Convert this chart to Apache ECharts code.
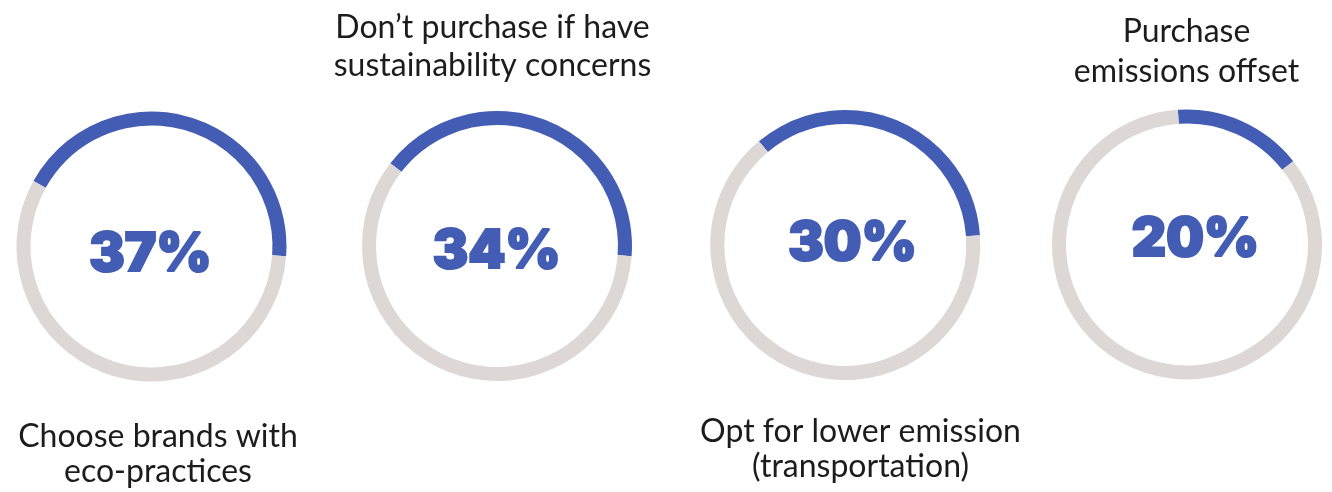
<!DOCTYPE html>
<html>
<head>
<meta charset="utf-8">
<script src="https://cdn.jsdelivr.net/npm/echarts@6/dist/echarts.min.js"></script>
<style>
html,body{margin:0;padding:0;background:#fff;}
#chart{width:1332px;height:492px;}
</style>
</head>
<body>
<div id="chart"></div>
<script>
// ---- data ----
const categories = [
  ['Choose brands with', 'eco-practices'],
  ['Don\u2019t purchase if have', 'sustainability concerns'],
  ['Opt for lower emission', '(transportation)'],
  ['Purchase', 'emissions offset']
];
const percentValues = [37, 34, 30, 20];
// share of the ring that the blue arc covers, as drawn in the picture (%)
const arcShare = [43.1, 40.7, 34.9, 15.5];
// angle where the blue arc starts (degrees, counter-clockwise from 3 o'clock)
const arcStart = [151, 142.2, 129.8, 93.9];

// ---- layout ----
const BLUE = '#425DB3';
const GREY = '#DDD7D6';
const ringCenters = [[151.5, 246.5], [497, 246], [845.3, 245], [1187, 244.5]];
const valueTextPos = [[150.5, 255], [496.7, 252.5], [852.5, 244], [1195.5, 240.5]];
const labelPos = [
  {x: 158, baselines: [447.5, 482.5]},
  {x: 492.5, baselines: [38.5, 76]},
  {x: 860.5, baselines: [442.5, 477.5]},
  {x: 1186.5, baselines: [42.5, 82.5]}
];
const LABEL_SIZE = 32;

const series = arcShare.map((s, i) => ({
  type: 'pie',
  center: ringCenters[i],
  radius: [121, 135],
  startAngle: arcStart[i],
  clockwise: true,
  silent: true,
  label: {show: false},
  labelLine: {show: false},
  emphasis: {disabled: true},
  data: [
    {value: s, itemStyle: {color: BLUE}},
    {value: 100 - s, itemStyle: {color: GREY}}
  ]
}));

const graphics = [];
percentValues.forEach((v, i) => {
  graphics.push({
    type: 'text',
    x: valueTextPos[i][0],
    y: valueTextPos[i][1],
    style: {
      text: v + '%',
      fill: BLUE,
      stroke: BLUE,
      lineWidth: 2.2,
      font: '900 53px Inter',
      align: 'center',
      verticalAlign: 'middle'
    }
  });
});
categories.forEach((lines, i) => {
  lines.forEach((t, j) => {
    graphics.push({
      type: 'text',
      x: labelPos[i].x,
      y: labelPos[i].baselines[j] - 0.33 * LABEL_SIZE,
      style: {
        text: t,
        fill: '#1c1c1c',
        font: 'normal ' + LABEL_SIZE + 'px Lato',
        align: 'center',
        verticalAlign: 'middle'
      }
    });
  });
});

const chart = echarts.init(document.getElementById('chart'), null, {renderer: 'canvas'});
chart.setOption({
  animation: false,
  backgroundColor: '#ffffff',
  series: series,
  graphic: graphics
});
</script>
</body>
</html>
